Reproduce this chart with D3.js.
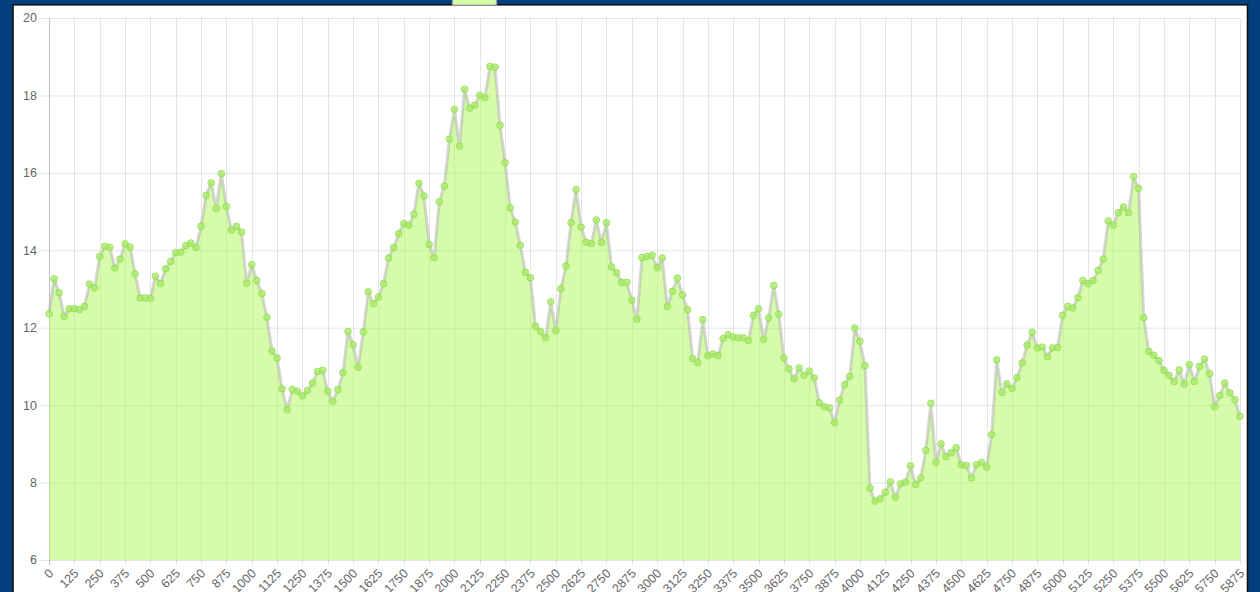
<!DOCTYPE html>
<html>
<head>
<meta charset="utf-8">
<script src="https://cdn.jsdelivr.net/npm/d3@7"></script>
<style>
  body { margin: 0; background: #023f7c; }
  svg { display: block; }
  .tick-label { font-family: "Liberation Sans", Arial, sans-serif; font-size: 12.5px; fill: #666; }
</style>
</head>
<body>
<script>
// x categories (one point every 25) and the values
var labels = d3.range(0, 5876, 25);
var values = [
  12.36, 13.26, 12.90, 12.29, 12.49, 12.49, 12.47, 12.55, 13.13, 13.03, 13.84, 14.10, 14.08, 13.54, 13.77, 14.17, 14.08, 13.39, 12.77, 12.77, 12.76, 13.33, 13.14, 13.52, 13.71, 13.94, 13.95,
  14.12, 14.19, 14.07, 14.62, 15.42, 15.74, 15.08, 15.98, 15.13, 14.52, 14.62, 14.47, 13.15, 13.63, 13.22, 12.88, 12.27, 11.40, 11.22, 10.42, 9.88, 10.41, 10.36, 10.24, 10.38, 10.57,
  10.87, 10.90, 10.36, 10.10, 10.40, 10.84, 11.90, 11.56, 10.98, 11.89, 12.93, 12.62, 12.79, 13.14, 13.80, 14.07, 14.43, 14.69, 14.65, 14.93, 15.73, 15.40, 14.15, 13.81, 15.25, 15.66,
  16.87, 17.64, 16.69, 18.16, 17.67, 17.75, 18.01, 17.94, 18.75, 18.73, 17.23, 16.26, 15.10, 14.73, 14.13, 13.43, 13.29, 12.04, 11.90, 11.74, 12.67, 11.92, 13.01, 13.59, 14.71, 15.57, 14.60, 14.21,
  14.17, 14.78, 14.20, 14.71, 13.57, 13.42, 13.17, 13.17, 12.71, 12.22, 13.81, 13.84, 13.87, 13.55, 13.80, 12.55, 12.94, 13.28, 12.85, 12.47, 11.20, 11.10, 12.21, 11.28, 11.32, 11.28,
  11.72, 11.82, 11.76, 11.74, 11.74, 11.67, 12.32, 12.49, 11.70, 12.25, 13.09, 12.35, 11.22, 10.94, 10.68, 10.96, 10.77, 10.88, 10.70, 10.06, 9.96, 9.93, 9.55, 10.13, 10.53, 10.74, 11.99,
  11.65, 11.02, 7.86, 7.52, 7.58, 7.75, 8.02, 7.62, 7.97, 8.01, 8.43, 7.95, 8.12, 8.83, 10.05, 8.52, 9.00, 8.67, 8.77, 8.90, 8.46, 8.44, 8.12, 8.46, 8.52, 8.40, 9.24,
  11.17, 10.33, 10.55, 10.43, 10.71, 11.09, 11.55, 11.88, 11.48, 11.50, 11.25, 11.48, 11.49, 12.32, 12.55, 12.51, 12.78, 13.22, 13.14, 13.22, 13.48, 13.77, 14.76, 14.65, 14.97, 15.12,
  14.97, 15.90, 15.60, 12.26, 11.39, 11.29, 11.15, 10.90, 10.77, 10.61, 10.91, 10.55, 11.05, 10.61, 11.00, 11.19, 10.81, 9.96, 10.25, 10.57, 10.32, 10.14, 9.71
];
var yTicks = [6, 8, 10, 12, 14, 16, 18, 20];
var xTicks = labels.filter(function(d) { return d % 125 === 0; });

var data = labels.map(function(l, i) { return { x: l, y: values[i] }; });

// frame + plot area
var W = 1260, H = 592;
var margin = { top: 18, right: 20, bottom: 32, left: 49 };

var svg = d3.select("body").append("svg")
  .attr("width", W)
  .attr("height", H);

svg.append("rect")
  .attr("width", W).attr("height", H)
  .attr("fill", "#023f7c");

svg.append("rect")
  .attr("x", 13).attr("y", 4.8)
  .attr("width", 1234.5).attr("height", 640)
  .attr("fill", "#fff")
  .attr("stroke", "#111")
  .attr("stroke-width", 1.6);

var x = d3.scaleLinear()
  .domain([0, 5875])
  .range([margin.left, W - margin.right]);

var y = d3.scaleLinear()
  .domain([6, 20])
  .range([H - margin.bottom, margin.top]);

// grid lines
var grid = svg.append("g");
grid.selectAll(".hgrid")
  .data(yTicks)
  .enter().append("line")
  .attr("x1", margin.left - 10)
  .attr("x2", W - margin.right)
  .attr("y1", function(d) { return y(d) + 0.5; })
  .attr("y2", function(d) { return y(d) + 0.5; })
  .attr("stroke", "rgba(0,0,0,0.1)");

grid.selectAll(".vgrid")
  .data(xTicks)
  .enter().append("line")
  .attr("x1", function(d) { return Math.round(x(d)) + 0.5; })
  .attr("x2", function(d) { return Math.round(x(d)) + 0.5; })
  .attr("y1", margin.top)
  .attr("y2", H - margin.bottom + 5)
  .attr("stroke", function(d) { return d === 0 ? "rgba(0,0,0,0.25)" : "rgba(0,0,0,0.1)"; });

// area + line
var area = d3.area()
  .x(function(d) { return x(d.x); })
  .y0(y(6))
  .y1(function(d) { return y(d.y); });

var line = d3.line()
  .x(function(d) { return x(d.x); })
  .y(function(d) { return y(d.y); });

svg.append("path")
  .datum(data)
  .attr("d", area)
  .attr("fill", "rgb(173,248,85)")
  .attr("fill-opacity", 0.5);

svg.append("path")
  .datum(data)
  .attr("d", line)
  .attr("fill", "none")
  .attr("stroke", "rgba(175,175,175,0.5)")
  .attr("stroke-width", 3)
  .attr("stroke-linejoin", "round");

svg.selectAll(".pt")
  .data(data)
  .enter().append("circle")
  .attr("cx", function(d) { return x(d.x); })
  .attr("cy", function(d) { return y(d.y); })
  .attr("r", 3.3)
  .attr("fill", "rgba(165,238,95,0.7)")
  .attr("stroke", "rgba(145,222,75,0.85)")
  .attr("stroke-width", 1);

// y labels
svg.selectAll(".ylab")
  .data(yTicks)
  .enter().append("text")
  .attr("class", "tick-label")
  .attr("x", margin.left - 12)
  .attr("y", function(d) { return y(d); })
  .attr("dy", "0.35em")
  .attr("text-anchor", "end")
  .text(function(d) { return d; });

// x labels, rotated
svg.selectAll(".xlab")
  .data(xTicks)
  .enter().append("text")
  .attr("class", "tick-label")
  .attr("transform", function(d) { return "translate(" + (x(d) + 2) + "," + (H - margin.bottom + 11) + ") rotate(-45)"; })
  .attr("dy", "0.35em")
  .attr("text-anchor", "end")
  .text(function(d) { return d; });

// legend swatch (mostly cut off at the top)
svg.append("rect")
  .attr("x", 452.5).attr("y", -7)
  .attr("width", 44).attr("height", 12)
  .attr("fill", "rgb(214,252,170)")
  .attr("stroke", "rgba(170,170,170,0.6)")
  .attr("stroke-width", 1.5);
</script>
</body>
</html>
